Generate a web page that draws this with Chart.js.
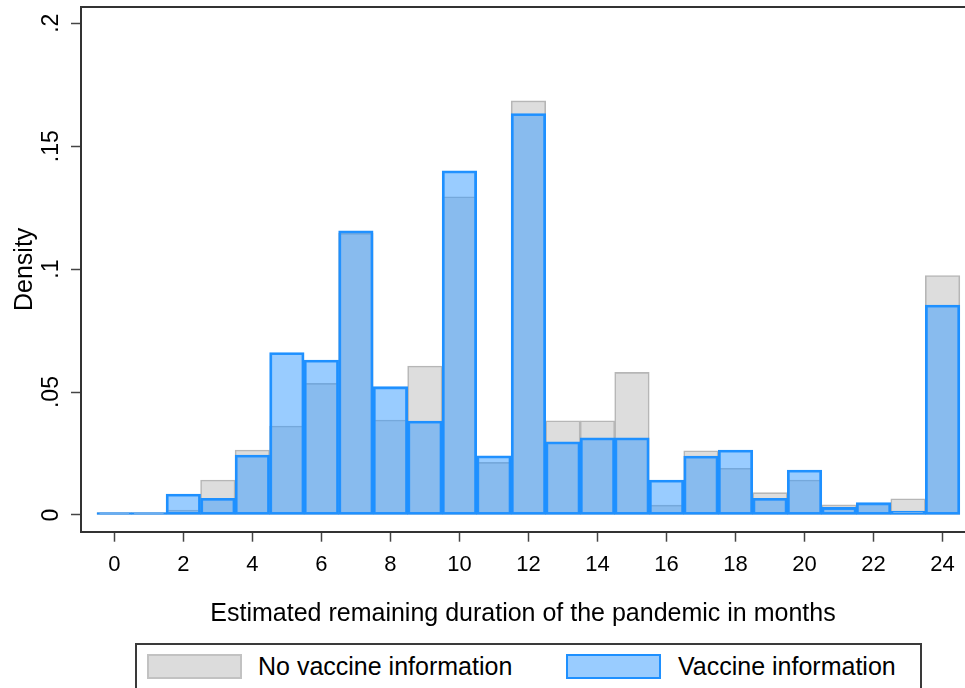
<!DOCTYPE html>
<html>
<head>
<meta charset="utf-8">
<title>Estimated remaining duration of the pandemic</title>
<script src="https://cdn.jsdelivr.net/npm/chart.js@4.4.1/dist/chart.umd.min.js"></script>
<style>
  body { margin: 0; background: #fff; overflow: hidden; }
  #wrap { position: relative; width: 965px; height: 688px; }
  #legendBox {
    position: absolute; left: 135px; top: 643px; width: 787px; height: 70px;
    border: 2px solid #3a3a3a; box-sizing: border-box; background: #fff;
    font-family: "Liberation Sans", Arial, sans-serif; font-size: 25px; color: #000;
  }
  .sw { position: absolute; top: 9px; width: 95px; height: 25px; box-sizing: border-box; }
  .lbl { position: absolute; top: 9px; line-height: 25px; white-space: nowrap; }
</style>
</head>
<body>
<div id="wrap">
  <canvas id="histChart" width="965" height="688"></canvas>
  <div id="legendBox">
    <div class="sw" style="left:10px; background:#dcdcdc; border:2px solid #c2c2c2;"></div>
    <div class="lbl" style="left:121px;">No vaccine information</div>
    <div class="sw" style="left:429px; background:rgb(153,204,255); border:2px solid rgb(30,144,255);"></div>
    <div class="lbl" style="left:541px;">Vaccine information</div>
  </div>
</div>
<script>
// Months (bin centres)
const months = [0, 1, 2, 3, 4, 5, 6, 7, 8, 9, 10, 11, 12, 13, 14, 15, 16, 17, 18, 19, 20, 21, 22, 23, 24];

// Density per month
const noVaccine = [0.001, 0.001, 0.002, 0.0142, 0.0264, 0.0362, 0.0535, 0.1145, 0.0386, 0.0606,
  0.1294, 0.0214, 0.1684, 0.0383, 0.0383, 0.058, 0.004, 0.0261, 0.019, 0.0091,
  0.0142, 0.0041, 0.0045, 0.0066, 0.0974];
const vaccine = [0.001, 0.001, 0.0085, 0.0068, 0.0244, 0.0661, 0.063, 0.1156, 0.0522, 0.0382,
  0.14, 0.0241, 0.1633, 0.0298, 0.0314, 0.0314, 0.0142, 0.024, 0.0264, 0.0068,
  0.0183, 0.0031, 0.005, 0.0016, 0.0854];

// Tick labels
const xTicks = [0, 2, 4, 6, 8, 10, 12, 14, 16, 18, 20, 22, 24];
const yTicks = [0, 0.05, 0.1, 0.15, 0.2];

const fontFamily = '"Liberation Sans", Arial, sans-serif';

function toPoints(values) {
  return months.map((m, i) => ({ x: m, y: values[i] }));
}

// Stata style numbers: .05 instead of 0.05
function stataNum(v) {
  return v === 0 ? "0" : String(v).replace(/^0\./, ".");
}

// Top line of the plot frame
const framePlugin = {
  id: "frame",
  afterDatasetsDraw(chart) {
    const { ctx, chartArea } = chart;
    ctx.save();
    ctx.strokeStyle = "#333";
    ctx.lineWidth = 2;
    ctx.beginPath();
    ctx.moveTo(chartArea.left, chartArea.top);
    ctx.lineTo(chartArea.right + 2, chartArea.top);
    ctx.stroke();
    ctx.restore();
  },
};

new Chart(document.getElementById("histChart").getContext("2d"), {
  type: "bar",
  data: {
    datasets: [
      {
        label: "Vaccine information",
        data: toPoints(vaccine),
        backgroundColor: "rgba(51, 153, 255, 0.5)",
        borderColor: "rgb(30, 144, 255)",
        borderWidth: 2.2,
        borderSkipped: false,
        grouped: false,
        barPercentage: 1,
        categoryPercentage: 1,
        order: 1,
      },
      {
        label: "No vaccine information",
        data: toPoints(noVaccine),
        backgroundColor: "rgb(221, 221, 221)",
        borderColor: "rgb(182, 182, 182)",
        borderWidth: 1.6,
        borderSkipped: false,
        grouped: false,
        barPercentage: 1,
        categoryPercentage: 1,
        order: 2,
      },
    ],
  },
  options: {
    responsive: false,
    animation: false,
    devicePixelRatio: 1,
    layout: { padding: { top: 7, left: 0, right: 0, bottom: 58.5 } },
    plugins: {
      legend: { display: false },
      tooltip: { enabled: false },
    },
    scales: {
      x: {
        type: "linear",
        min: -0.965,
        max: 24.65,
        offset: false,
        afterBuildTicks: (scale) => {
          scale.ticks = xTicks.map((v) => ({ value: v }));
        },
        afterFit: (scale) => {
          scale.height = 97.8;
          scale.paddingLeft = 0;
          scale.paddingRight = 0;
        },
        ticks: {
          autoSkip: false,
          maxRotation: 0,
          padding: 10,
          color: "#000",
          font: { family: fontFamily, size: 22 },
        },
        grid: { offset: false, drawOnChartArea: false, tickLength: 10, tickColor: "#444", tickWidth: 1.5 },
        border: { color: "#333", width: 2 },
        title: {
          display: true,
          text: "Estimated remaining duration of the pandemic in months",
          color: "#000",
          font: { family: fontFamily, size: 25 },
          padding: { top: 0, bottom: 0 },
        },
      },
      y: {
        min: -0.0068,
        max: 0.2066,
        afterBuildTicks: (scale) => {
          scale.ticks = yTicks.map((v) => ({ value: v }));
        },
        afterFit: (scale) => {
          scale.width = 81;
          scale.paddingTop = 0;
          scale.paddingBottom = 0;
        },
        ticks: {
          minRotation: 90,
          maxRotation: 90,
          crossAlign: "center",
          padding: 3,
          color: "#000",
          font: { family: fontFamily, size: 23 },
          callback: (v) => stataNum(v),
        },
        grid: { drawOnChartArea: false, tickLength: 10, tickColor: "#444", tickWidth: 1.5 },
        border: { color: "#333", width: 2 },
        title: {
          display: true,
          text: "Density",
          color: "#000",
          font: { family: fontFamily, size: 25 },
          padding: { top: 10, bottom: 0 },
        },
      },
    },
  },
  plugins: [framePlugin],
});
</script>
</body>
</html>
